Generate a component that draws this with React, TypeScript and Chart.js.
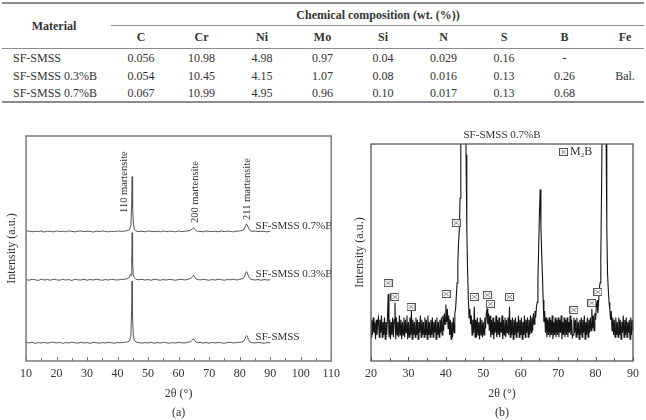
import { useEffect, useRef } from "react";
import { Chart, registerables } from "chart.js";

Chart.register(...registerables);

const SERIF = '"Liberation Serif", "Times New Roman", Times, serif';
const INK = "#333";
const RULE = "#8c8c8c";

/* ---------- Chemical composition table (wt. %) ---------- */
const elementHeaders = ["C", "Cr", "Ni", "Mo", "Si", "N", "S", "B", "Fe"];
const materialNames = ["SF-SMSS", "SF-SMSS 0.3%B", "SF-SMSS 0.7%B"];
const compositionSMSS = ["0.056", "10.98", "4.98", "0.97", "0.04", "0.029", "0.16", "-", ""];
const compositionB03 = ["0.054", "10.45", "4.15", "1.07", "0.08", "0.016", "0.13", "0.26", "Bal."];
const compositionB07 = ["0.067", "10.99", "4.95", "0.96", "0.10", "0.017", "0.13", "0.68", ""];
const compositionRows = [compositionSMSS, compositionB03, compositionB07];

/* ---------- (a) XRD patterns, relative intensity (a.u.) vs 2θ ---------- */
type Pt = [number, number];

const profileSMSS: Pt[] = [
  [10, 0.3], [11, 0], [12, 0.4], [13, -0.2], [14, 0.2], [15, 0], [16, 0.3], [17, -0.1], [18, 0.2], [19, 0.4],
  [20, 0], [21, 0.3], [22, -0.2], [23, 0.2], [24, 0], [25, 0.4], [26, 0.1], [27, -0.1], [28, 0.3], [29, 0],
  [30, 0.2], [31, -0.2], [32, 0.3], [33, 0.1], [34, -0.1], [35, 0.2], [36, 0], [37, 0.3], [38, 0.1], [39, -0.1],
  [40, 0.2], [41, 0.1], [42, 0.3], [43, 0.4], [43.9, 0.9], [44.35, 3], [44.6, 14], [44.75, 27.5], [44.9, 12],
  [45.15, 3.5], [45.5, 1.2], [46, 0.4], [47, 0.2], [48, -0.1], [49, 0.2], [50, 0], [51, 0.3], [52, -0.1],
  [53, 0.2], [54, 0], [55, 0.3], [56, 0.1], [57, -0.1], [58, 0.2], [59, 0], [60, 0.3], [61, 0.1], [62, 0],
  [63, 0.3], [64, 0.6], [64.5, 1.3], [64.9, 1.9], [65.3, 1], [65.8, 0.3], [66.5, 0.1], [67, 0.3], [68, 0],
  [69, 0.2], [70, -0.1], [71, 0.3], [72, 0], [73, 0.2], [74, 0.1], [75, -0.1], [76, 0.2], [77, 0.3], [78, 0],
  [79, 0.2], [80, 0.3], [81.2, 0.6], [81.8, 2], [82.2, 3.3], [82.5, 3], [82.9, 1.4], [83.4, 0.4], [84, 0.2],
  [85, 0], [86, 0.3], [87, 0.1], [88, -0.1], [89, 0.2], [90, 0.1],
];

const profileB03: Pt[] = [
  [10, 0.2], [11, -0.1], [12, 0.3], [13, 0.1], [14, -0.2], [15, 0.3], [16, 0], [17, 0.2], [18, -0.1], [19, 0.3],
  [20, 0.1], [21, -0.1], [22, 0.3], [23, 0], [24, 0.2], [25, -0.2], [26, 0.3], [27, 0.1], [28, 0], [29, 0.3],
  [30, -0.1], [31, 0.2], [32, 0], [33, 0.3], [34, 0.1], [35, -0.1], [36, 0.2], [37, 0], [38, 0.3], [39, 0.1],
  [40, 0], [41, 0.2], [42, 0.3], [43, 0.5], [43.8, 1], [44.15, 2.4], [44.35, 2.6], [44.5, 2], [44.65, 8],
  [44.78, 21], [44.92, 8], [45.15, 2.4], [45.5, 1], [46, 0.3], [47, 0.1], [48, 0.3], [49, 0], [50, 0.2],
  [51, -0.1], [52, 0.3], [53, 0.1], [54, -0.1], [55, 0.2], [56, 0], [57, 0.3], [58, 0.1], [59, -0.1], [60, 0.2],
  [61, 0.3], [62, 0], [63, 0.3], [64, 0.7], [64.5, 1.5], [64.9, 2.2], [65.3, 1.2], [65.8, 0.4], [66.5, 0.2],
  [67, 0], [68, 0.3], [69, 0.1], [70, -0.1], [71, 0.2], [72, 0], [73, 0.3], [74, 0.1], [75, -0.1], [76, 0.2],
  [77, 0.1], [78, 0.3], [79, 0], [80, 0.3], [81.2, 0.7], [81.8, 2.2], [82.2, 3.7], [82.5, 3.4], [82.9, 1.6],
  [83.4, 0.5], [84, 0.2], [85, 0], [86, 0.2], [87, -0.1], [88, 0.2], [89, 0], [90, 0.1],
];

const profileB07: Pt[] = [
  [10, 0.1], [11, 0.3], [12, -0.1], [13, 0.2], [14, 0], [15, 0.3], [16, -0.2], [17, 0.2], [18, 0.1], [19, -0.1],
  [20, 0.3], [21, 0], [22, 0.2], [23, -0.1], [24, 0.3], [25, 0.1], [26, -0.1], [27, 0.2], [28, 0.3], [29, 0],
  [30, 0.2], [31, 0.1], [32, -0.2], [33, 0.2], [34, 0], [35, 0.3], [36, 0.1], [37, -0.1], [38, 0.2], [39, 0],
  [40, 0.3], [41, 0.1], [42, 0.2], [43, 0.4], [43.9, 0.8], [44.4, 3], [44.62, 13], [44.78, 24.4], [44.93, 11],
  [45.2, 3], [45.5, 1], [46, 0.3], [47, 0], [48, 0.2], [49, -0.1], [50, 0.3], [51, 0.1], [52, 0], [53, 0.2],
  [54, -0.1], [55, 0.3], [56, 0], [57, 0.2], [58, 0.1], [59, -0.1], [60, 0.3], [61, 0], [62, 0.2], [63, 0.3],
  [64, 0.6], [64.5, 1.3], [64.9, 1.8], [65.3, 1], [65.8, 0.3], [66.5, 0], [67, 0.2], [68, -0.1], [69, 0.3],
  [70, 0.1], [71, 0], [72, 0.2], [73, -0.1], [74, 0.3], [75, 0], [76, 0.2], [77, 0.1], [78, -0.1], [79, 0.2],
  [80, 0.3], [81.2, 0.7], [81.8, 2.1], [82.2, 3.4], [82.5, 3.1], [82.9, 1.5], [83.4, 0.4], [84, 0.1], [85, 0.3],
  [86, 0], [87, 0.2], [88, 0.1], [89, -0.1], [90, 0.2],
];

// vertical stacking offset of each pattern (a.u.)
const offsetSMSS = 8;
const offsetB03 = 36;
const offsetB07 = 57.5;

const seriesNames = ["SF-SMSS", "SF-SMSS 0.3%B", "SF-SMSS 0.7%B"];
const seriesLabelAngle = 85.2;
const seriesLabelLift = 2.5;

const peakNames = ["110 martensite", "200 martensite", "211 martensite"];
const peakLabelAngle = [42.2, 65.5, 82.6];
const peakLabelLevel = [65.8, 61.3, 62.7];

/* ---------- (b) SF-SMSS 0.7%B slow scan ---------- */
const scanStart = 20;
const scanStep = 0.2;
const intensityB07Scan = [
  11, 19, 12, 20, 13, 18, 10, 19, 12, 18,
  20, 11, 19, 13, 21, 11, 18, 12, 20, 10,
  18, 12, 20, 31, 11, 19, 10, 18, 12, 20,
  11, 19, 27, 10, 20, 12, 18, 11, 21, 12,
  19, 10, 18, 12, 20, 11, 19, 13, 21, 10,
  18, 11, 20, 12, 23, 10, 19, 12, 18, 11,
  20, 12, 19, 10, 18, 13, 21, 11, 19, 12,
  18, 11, 20, 12, 19, 10, 21, 12, 18, 11,
  19, 12, 20, 11, 18, 13, 19, 10, 20, 12,
  18, 11, 19, 13, 20, 12, 21, 14, 22, 17,
  26, 18, 24, 15, 21, 12, 19, 10, 18, 11,
  20, 13, 22, 24, 30, 36, 45, 55, 60, 75,
  100, 135, 160, 170, 165, 145, 120, 95, 60, 42,
  29, 20, 24, 17, 21, 12, 19, 13, 25, 11,
  19, 11, 20, 12, 18, 10, 20, 12, 19, 11,
  18, 12, 20, 15, 22, 24, 17, 22, 14, 21,
  11, 19, 12, 20, 10, 18, 13, 21, 11, 19,
  12, 20, 11, 18, 13, 21, 10, 19, 12, 20,
  11, 19, 13, 20, 12, 25, 11, 19, 12, 20,
  10, 19, 12, 20, 11, 18, 13, 21, 11, 19,
  12, 20, 10, 18, 12, 21, 11, 19, 13, 20,
  11, 19, 12, 21, 13, 20, 14, 22, 17, 23,
  20, 25, 27, 38, 52, 68, 79, 62, 50, 40,
  28, 18, 23, 13, 20, 11, 19, 12, 20, 11,
  19, 12, 21, 10, 18, 12, 20, 11, 19, 12,
  20, 11, 19, 13, 21, 10, 18, 12, 20, 11,
  19, 12, 20, 11, 18, 13, 21, 12, 19, 11,
  12, 20, 13, 19, 11, 20, 12, 18, 10, 19,
  12, 20, 11, 19, 13, 21, 10, 18, 12, 20,
  11, 19, 13, 20, 14, 24, 15, 21, 14, 22,
  19, 25, 28, 22, 27, 33, 36, 48, 79, 115,
  150, 170, 170, 150, 105, 62, 40, 33, 27, 24,
  19, 23, 14, 20, 12, 19, 11, 20, 12, 18,
  11, 20, 12, 19, 10, 18, 13, 21, 11, 19,
  12, 20, 11, 18, 13, 19, 10, 20, 12, 19,
  14,
];

// M2B reflections marked on the scan
const m2bAngle = [24.6, 26.4, 30.7, 40.1, 42.8, 47.6, 51.1, 51.9, 57.0, 74.2, 79.0, 80.6];
const m2bLevel = [35.9, 29.5, 24.9, 30.9, 63.6, 29.5, 30.4, 26.3, 29.5, 23.5, 26.7, 31.8];

/* ---------- helpers ---------- */
function stacked(profile: Pt[], offset: number) {
  return profile.map(([a, v]) => ({ x: a, y: v + offset }));
}

function boxCrossGlyph(): HTMLCanvasElement {
  const c = document.createElement("canvas");
  c.width = 9;
  c.height = 8;
  const g = c.getContext("2d")!;
  g.fillStyle = "#fff";
  g.fillRect(0, 0, 9, 8);
  g.strokeStyle = "#555";
  g.lineWidth = 1;
  g.strokeRect(0.5, 0.5, 8, 7);
  g.strokeStyle = "#888";
  g.beginPath();
  g.moveTo(2, 2);
  g.lineTo(7, 6);
  g.moveTo(7, 2);
  g.lineTo(2, 6);
  g.stroke();
  return c;
}

function frameTicks(color: string, width: number, major: number, minor: number) {
  return {
    id: "frameTicks",
    afterDraw(chart: any) {
      const { ctx, chartArea } = chart;
      const { left, top, right, bottom } = chartArea;
      const xs = chart.scales.x;
      ctx.save();
      ctx.strokeStyle = color;
      ctx.lineWidth = width;
      ctx.strokeRect(left, top, right - left, bottom - top);
      ctx.lineWidth = 1;
      ctx.beginPath();
      const n = Math.round((xs.max - xs.min) / minor);
      const every = Math.round(major / minor);
      for (let i = 0; i <= n; i++) {
        const px = Math.round(xs.getPixelForValue(xs.min + i * minor)) + 0.5;
        const len = i % every === 0 ? 4 : 3;
        ctx.moveTo(px, bottom);
        ctx.lineTo(px, bottom - len);
      }
      ctx.stroke();
      ctx.restore();
    },
  };
}

function caption(text: string, fromBottom: number) {
  return {
    id: "caption",
    afterDraw(chart: any) {
      const { ctx, chartArea } = chart;
      ctx.save();
      ctx.font = `12px ${SERIF}`;
      ctx.fillStyle = INK;
      ctx.textAlign = "center";
      ctx.textBaseline = "middle";
      ctx.fillText(text, (chartArea.left + chartArea.right) / 2, chart.height - fromBottom);
      ctx.restore();
    },
  };
}

const tickFont = { family: SERIF, size: 12 };

function axes(xMin: number, xMax: number, yWidth: number, yTitlePad: number) {
  return {
    x: {
      type: "linear" as const,
      min: xMin,
      max: xMax,
      ticks: { stepSize: 10, autoSkip: false, maxRotation: 0, font: tickFont, color: INK, padding: 6 },
      grid: { display: false, drawTicks: false },
      border: { display: false },
      title: { display: true, text: "2θ (°)", font: tickFont, color: INK, padding: { top: 0, bottom: 18.8 } },
      afterFit: (s: any) => {
        s.height = 59;
      },
    },
    y: {
      min: 0,
      max: 100,
      ticks: { display: false },
      grid: { display: false, drawTicks: false },
      border: { display: false },
      title: { display: true, text: "Intensity (a.u.)", font: tickFont, color: INK, padding: { top: yTitlePad, bottom: 0 } },
      afterFit: (s: any) => {
        s.width = yWidth;
      },
    },
  };
}

function configA(): any {
  const seriesOffsets = [offsetSMSS, offsetB03, offsetB07];
  const labels = {
    id: "patternLabels",
    afterDatasetsDraw(chart: any) {
      const { ctx } = chart;
      const { x, y } = chart.scales;
      ctx.save();
      ctx.fillStyle = INK;
      ctx.textAlign = "left";
      ctx.textBaseline = "middle";
      ctx.font = `11px ${SERIF}`;
      seriesNames.forEach((name, i) => {
        ctx.fillText(name, x.getPixelForValue(seriesLabelAngle), y.getPixelForValue(seriesOffsets[i] + seriesLabelLift));
      });
      ctx.font = `10.5px ${SERIF}`;
      peakNames.forEach((name, i) => {
        ctx.save();
        ctx.translate(x.getPixelForValue(peakLabelAngle[i]), y.getPixelForValue(peakLabelLevel[i]));
        ctx.rotate(-Math.PI / 2);
        ctx.fillText(name, 0, 0);
        ctx.restore();
      });
      ctx.restore();
    },
  };
  const line = { borderColor: "#555", borderWidth: 1, pointRadius: 0, tension: 0 };
  return {
    type: "line",
    data: {
      datasets: [
        { label: seriesNames[0], data: stacked(profileSMSS, offsetSMSS), ...line },
        { label: seriesNames[1], data: stacked(profileB03, offsetB03), ...line },
        { label: seriesNames[2], data: stacked(profileB07, offsetB07), ...line },
      ],
    },
    options: {
      animation: false,
      responsive: false,
      devicePixelRatio: 1,
      layout: { padding: { left: 0, top: 16, right: 9, bottom: 0 } },
      plugins: { legend: { display: false }, tooltip: { enabled: false } },
      scales: axes(10, 110, 26, 5),
    },
    plugins: [labels, frameTicks("#7a7a7a", 1.5, 10, 5), caption("(a)", 7)],
  };
}

function configB(): any {
  const glyph = boxCrossGlyph();
  const decorations = {
    id: "scanDecor",
    afterDraw(chart: any) {
      const { ctx, chartArea } = chart;
      const cx = (chartArea.left + chartArea.right) / 2;
      ctx.save();
      ctx.fillStyle = INK;
      ctx.textBaseline = "middle";
      ctx.textAlign = "center";
      ctx.font = `11px ${SERIF}`;
      ctx.fillText(materialNames[2], cx, chartArea.top - 9);
      // phase key: ⊠ M2B
      const kx = chartArea.right - 70;
      const ky = chartArea.top + 8;
      ctx.drawImage(glyph, kx - 4, ky - 4);
      ctx.textAlign = "left";
      ctx.font = `12px ${SERIF}`;
      ctx.fillText("M", kx + 7, ky);
      const mW = ctx.measureText("M").width;
      ctx.font = `7px ${SERIF}`;
      ctx.fillText("2", kx + 7 + mW, ky + 3);
      const sW = ctx.measureText("2").width;
      ctx.font = `12px ${SERIF}`;
      ctx.fillText("B", kx + 7 + mW + sW, ky);
      ctx.restore();
    },
  };
  return {
    type: "line",
    data: {
      datasets: [
        {
          type: "scatter",
          label: "M2B",
          data: m2bAngle.map((a, i) => ({ x: a, y: m2bLevel[i] })),
          pointStyle: glyph,
          pointRadius: 4,
          showLine: false,
        },
        {
          label: materialNames[2],
          data: intensityB07Scan.map((v, i) => ({ x: +(scanStart + i * scanStep).toFixed(2), y: v })),
          borderColor: "#151515",
          borderWidth: 1.1,
          pointRadius: 0,
          tension: 0,
        },
      ],
    },
    options: {
      animation: false,
      responsive: false,
      devicePixelRatio: 1,
      layout: { padding: { left: 0, top: 32, right: 13, bottom: 0 } },
      plugins: { legend: { display: false }, tooltip: { enabled: false } },
      scales: axes(20, 90, 19, 0.8),
    },
    plugins: [frameTicks("#555", 1.3, 10, 5), decorations, caption("(b)", 7)],
  };
}

function ChartCanvas(props: { make: () => any; left: number; top: number; width: number; height: number }) {
  const ref = useRef<HTMLCanvasElement>(null);
  useEffect(() => {
    const chart = new Chart(ref.current!, props.make());
    return () => chart.destroy();
  }, []);
  return (
    <canvas
      ref={ref}
      width={props.width}
      height={props.height}
      style={{ position: "absolute", left: props.left, top: props.top, width: props.width, height: props.height }}
    />
  );
}

function Text(props: { x: number; y: number; bold?: boolean; align?: "left" | "center"; children: any }) {
  return (
    <div
      style={{
        position: "absolute",
        left: props.x,
        top: props.y,
        transform: props.align === "left" ? "translateY(-50%)" : "translate(-50%, -50%)",
        whiteSpace: "nowrap",
        lineHeight: "12px",
        fontSize: 12,
        fontWeight: props.bold ? "bold" : "normal",
        fontFamily: SERIF,
        color: INK,
      }}
    >
      {props.children}
    </div>
  );
}

function Rule(props: { x: number; y: number; w: number; h: number }) {
  return <div style={{ position: "absolute", left: props.x, top: props.y, width: props.w, height: props.h, background: RULE }} />;
}

function CompositionTable() {
  const colX = (i: number) => 141 + i * 60.5;
  const rowY = [58, 75.5, 93];
  return (
    <>
      <Rule x={2} y={2} w={642} h={2} />
      <Text x={378} y={15} bold>
        Chemical composition (wt. (%))
      </Text>
      <Rule x={111} y={25} w={533} h={1} />
      <Text x={54} y={26} bold>
        Material
      </Text>
      {elementHeaders.map((h, i) => (
        <Text key={h} x={colX(i)} y={37} bold>
          {h}
        </Text>
      ))}
      <Rule x={2} y={48} w={642} h={1} />
      {materialNames.map((m, r) => (
        <Text key={m} x={13} y={rowY[r]} align="left">
          {m}
        </Text>
      ))}
      {compositionRows.map((row, r) =>
        row.map((v, i) =>
          v ? (
            <Text key={`${r}-${i}`} x={colX(i)} y={rowY[r]}>
              {v}
            </Text>
          ) : null
        )
      )}
      <Rule x={2} y={101} w={642} h={2} />
    </>
  );
}

export default function App() {
  return (
    <div style={{ position: "absolute", left: 0, top: 0, width: 646, height: 420, background: "#fff", overflow: "hidden" }}>
      <CompositionTable />
      <ChartCanvas make={configA} left={0} top={120} width={346} height={300} />
      <ChartCanvas make={configB} left={352} top={112} width={294} height={308} />
    </div>
  );
}
